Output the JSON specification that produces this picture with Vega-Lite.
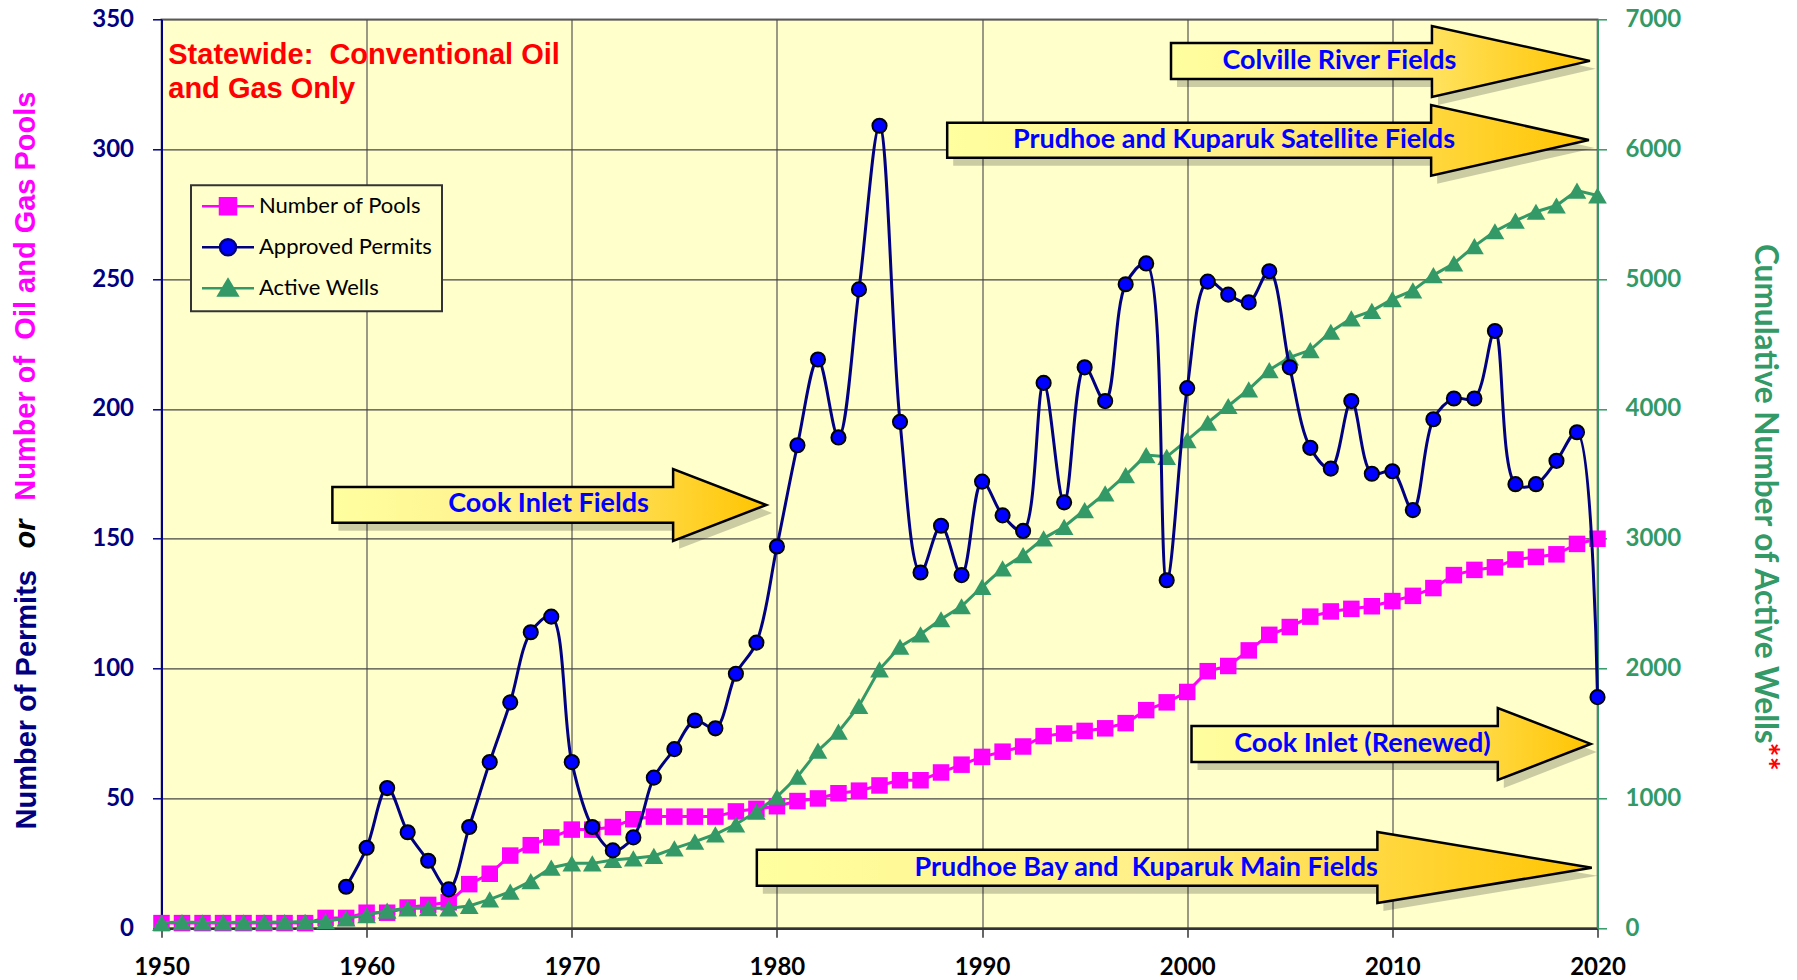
{
  "$schema": "https://vega.github.io/schema/vega-lite/v6.json",
  "width": 1436,
  "height": 909,
  "autosize": {"type": "none"},
  "padding": {"left": 161.5, "top": 19.3, "right": 199.5, "bottom": 51.7},
  "background": "#FFFFFF",
  "config": {
    "view": {"fill": "#FFFFCC", "stroke": "#999999", "strokeWidth": 2},
    "font": "Lato"
  },
  "datasets": {
    "series": [
      {"year": 1950, "pools": 2, "permits": null, "wells": 42},
      {"year": 1951, "pools": 2, "permits": null, "wells": 48},
      {"year": 1952, "pools": 2, "permits": null, "wells": 45},
      {"year": 1953, "pools": 2, "permits": null, "wells": 45},
      {"year": 1954, "pools": 2, "permits": null, "wells": 46},
      {"year": 1955, "pools": 2, "permits": null, "wells": 47},
      {"year": 1956, "pools": 2, "permits": null, "wells": 48},
      {"year": 1957, "pools": 2, "permits": null, "wells": 50},
      {"year": 1958, "pools": 4, "permits": null, "wells": 55},
      {"year": 1959, "pools": 4, "permits": 16, "wells": 77},
      {"year": 1960, "pools": 6, "permits": 31, "wells": 102},
      {"year": 1961, "pools": 6, "permits": 54, "wells": 136},
      {"year": 1962, "pools": 8, "permits": 37, "wells": 154},
      {"year": 1963, "pools": 9, "permits": 26, "wells": 156},
      {"year": 1964, "pools": 10, "permits": 15, "wells": 154},
      {"year": 1965, "pools": 17, "permits": 39, "wells": 172},
      {"year": 1966, "pools": 21, "permits": 64, "wells": 223},
      {"year": 1967, "pools": 28, "permits": 87, "wells": 282},
      {"year": 1968, "pools": 32, "permits": 114, "wells": 364},
      {"year": 1969, "pools": 35, "permits": 120, "wells": 467},
      {"year": 1970, "pools": 38, "permits": 64, "wells": 500},
      {"year": 1971, "pools": 38, "permits": 39, "wells": 500},
      {"year": 1972, "pools": 39, "permits": 30, "wells": 526},
      {"year": 1973, "pools": 42, "permits": 35, "wells": 539},
      {"year": 1974, "pools": 43, "permits": 58, "wells": 557},
      {"year": 1975, "pools": 43, "permits": 69, "wells": 616},
      {"year": 1976, "pools": 43, "permits": 80, "wells": 667},
      {"year": 1977, "pools": 43, "permits": 77, "wells": 724},
      {"year": 1978, "pools": 45, "permits": 98, "wells": 801},
      {"year": 1979, "pools": 46, "permits": 110, "wells": 898},
      {"year": 1980, "pools": 47, "permits": 147, "wells": 1013},
      {"year": 1981, "pools": 49, "permits": 186, "wells": 1167},
      {"year": 1982, "pools": 50, "permits": 219, "wells": 1368},
      {"year": 1983, "pools": 52, "permits": 189, "wells": 1514},
      {"year": 1984, "pools": 53, "permits": 246, "wells": 1712},
      {"year": 1985, "pools": 55, "permits": 309, "wells": 1994},
      {"year": 1986, "pools": 57, "permits": 195, "wells": 2168},
      {"year": 1987, "pools": 57, "permits": 137, "wells": 2264},
      {"year": 1988, "pools": 60, "permits": 155, "wells": 2380},
      {"year": 1989, "pools": 63, "permits": 136, "wells": 2480},
      {"year": 1990, "pools": 66, "permits": 172, "wells": 2630},
      {"year": 1991, "pools": 68, "permits": 159, "wells": 2772},
      {"year": 1992, "pools": 70, "permits": 153, "wells": 2874},
      {"year": 1993, "pools": 74, "permits": 210, "wells": 3003},
      {"year": 1994, "pools": 75, "permits": 164, "wells": 3092},
      {"year": 1995, "pools": 76, "permits": 216, "wells": 3221},
      {"year": 1996, "pools": 77, "permits": 203, "wells": 3349},
      {"year": 1997, "pools": 79, "permits": 248, "wells": 3490},
      {"year": 1998, "pools": 84, "permits": 256, "wells": 3644},
      {"year": 1999, "pools": 87, "permits": 134, "wells": 3631},
      {"year": 2000, "pools": 91, "permits": 208, "wells": 3760},
      {"year": 2001, "pools": 99, "permits": 249, "wells": 3893},
      {"year": 2002, "pools": 101, "permits": 244, "wells": 4022},
      {"year": 2003, "pools": 107, "permits": 241, "wells": 4150},
      {"year": 2004, "pools": 113, "permits": 253, "wells": 4299},
      {"year": 2005, "pools": 116, "permits": 216, "wells": 4397},
      {"year": 2006, "pools": 120, "permits": 185, "wells": 4453},
      {"year": 2007, "pools": 122, "permits": 177, "wells": 4594},
      {"year": 2008, "pools": 123, "permits": 203, "wells": 4697},
      {"year": 2009, "pools": 124, "permits": 175, "wells": 4755},
      {"year": 2010, "pools": 126, "permits": 176, "wells": 4845},
      {"year": 2011, "pools": 128, "permits": 161, "wells": 4912},
      {"year": 2012, "pools": 131, "permits": 196, "wells": 5030},
      {"year": 2013, "pools": 136, "permits": 204, "wells": 5120},
      {"year": 2014, "pools": 138, "permits": 204, "wells": 5253},
      {"year": 2015, "pools": 139, "permits": 230, "wells": 5368},
      {"year": 2016, "pools": 142, "permits": 171, "wells": 5450},
      {"year": 2017, "pools": 143, "permits": 171, "wells": 5518},
      {"year": 2018, "pools": 144, "permits": 180, "wells": 5566},
      {"year": 2019, "pools": 148, "permits": 191, "wells": 5681},
      {"year": 2020, "pools": 150, "permits": 89, "wells": 5643}
    ],
    "arrows": [
      {"arrow": "Colville", "x": 1999.21, "lo": 327.0, "hi": 340.9},
      {"arrow": "Colville", "x": 2011.93, "lo": 327.0, "hi": 340.9},
      {"arrow": "Colville", "x": 2011.93, "lo": 320.1, "hi": 347.4},
      {"arrow": "Colville", "x": 2019.63, "lo": 334.0, "hi": 334.0},
      {"arrow": "Satellite", "x": 1988.30, "lo": 296.7, "hi": 310.2},
      {"arrow": "Satellite", "x": 2011.89, "lo": 296.7, "hi": 310.2},
      {"arrow": "Satellite", "x": 2011.89, "lo": 289.8, "hi": 317.0},
      {"arrow": "Satellite", "x": 2019.58, "lo": 303.5, "hi": 303.5},
      {"arrow": "CookInlet", "x": 1958.33, "lo": 156.2, "hi": 169.9},
      {"arrow": "CookInlet", "x": 1974.94, "lo": 156.2, "hi": 169.9},
      {"arrow": "CookInlet", "x": 1974.94, "lo": 149.2, "hi": 176.8},
      {"arrow": "CookInlet", "x": 1979.48, "lo": 163.0, "hi": 163.0},
      {"arrow": "Renewed", "x": 2000.21, "lo": 64.0, "hi": 77.9},
      {"arrow": "Renewed", "x": 2015.14, "lo": 64.0, "hi": 77.9},
      {"arrow": "Renewed", "x": 2015.14, "lo": 57.1, "hi": 84.8},
      {"arrow": "Renewed", "x": 2019.67, "lo": 71.0, "hi": 71.0},
      {"arrow": "Main", "x": 1979.02, "lo": 16.4, "hi": 30.2},
      {"arrow": "Main", "x": 2009.27, "lo": 16.4, "hi": 30.2},
      {"arrow": "Main", "x": 2009.27, "lo": 9.7, "hi": 37.1},
      {"arrow": "Main", "x": 2019.72, "lo": 23.3, "hi": 23.3}
    ],
    "labels": [
      {"label": "Colville River Fields", "x": 2007.42, "y": 334.0},
      {"label": "Prudhoe and Kuparuk Satellite Fields", "x": 2002.28, "y": 303.5},
      {"label": "Cook Inlet Fields", "x": 1968.87, "y": 163.4},
      {"label": "Cook Inlet (Renewed)", "x": 2008.54, "y": 71.0},
      {"label": "Prudhoe Bay and\u00a0 Kuparuk Main Fields", "x": 1998.0, "y": 23.3}
    ]
  },
  "layer": [
    {
      "layer": [
        {
          "data": {"name": "arrows"},
          "mark": {"type": "area", "fill": "#000000", "opacity": 0.2, "xOffset": 6, "yOffset": 8, "y2Offset": 8},
          "encoding": {
            "x": {
              "field": "x", "type": "quantitative",
              "scale": {"domain": [1950, 2020], "nice": false, "zero": false},
              "axis": {
                "values": [1950, 1960, 1970, 1980, 1990, 2000, 2010, 2020],
                "format": "d", "title": null, "grid": true,
                "gridColor": "#555555", "gridWidth": 1.2,
                "domainColor": "#333333", "domainWidth": 2.5,
                "tickColor": "#333333", "tickSize": 9, "tickWidth": 1.5,
                "labelFont": "Lato", "labelFontSize": 24, "labelFontWeight": "bold",
                "labelColor": "#000000", "labelPadding": 18, "labelFlush": false, "labelOverlap": false
              }
            },
            "y": {
              "field": "hi", "type": "quantitative",
              "scale": {"domain": [0, 350], "nice": false},
              "axis": {
                "values": [0, 50, 100, 150, 200, 250, 300, 350],
                "format": "d", "title": "Number of Permits", "grid": true,
                "gridColor": "#444444", "gridWidth": 1.2,
                "domainColor": "#000080", "domainWidth": 2,
                "tickColor": "#000080", "tickSize": 9, "tickWidth": 1.5,
                "labelFont": "Lato", "labelFontSize": 24, "labelFontWeight": "bold",
                "labelColor": "#000080", "labelPadding": 19,
                "titleFont": "Liberation Sans", "titleFontSize": 29, "titleFontWeight": "bold",
                "titleColor": "#000080", "titleAngle": 270, "titleX": -126.5, "titleY": 680,
                "titleAlign": "center", "titleBaseline": "alphabetic"
              }
            },
            "y2": {"field": "lo"},
            "detail": {"field": "arrow"}
          }
        },
        {
          "data": {"name": "arrows"},
          "mark": {
            "type": "area", "stroke": "#000000", "strokeWidth": 2.5,
            "fill": {"gradient": "linear", "x1": 0, "x2": 1, "y1": 0, "y2": 0,
              "stops": [
                {"offset": 0, "color": "#FFFFA0"},
                {"offset": 0.45, "color": "#FFF08A"},
                {"offset": 1, "color": "#FFC400"}
              ]}
          },
          "encoding": {
            "x": {"field": "x", "type": "quantitative"},
            "y": {"field": "hi", "type": "quantitative"},
            "y2": {"field": "lo"},
            "detail": {"field": "arrow"}
          }
        },
        {
          "data": {"name": "labels"},
          "mark": {"type": "text", "font": "Lato", "fontSize": 27, "fontWeight": "bold", "fill": "#0000FF", "align": "center", "baseline": "middle"},
          "encoding": {
            "x": {"field": "x", "type": "quantitative"},
            "y": {"field": "y", "type": "quantitative"},
            "text": {"field": "label"}
          }
        },
        {
          "data": {"values": [{}]},
          "mark": {"type": "text", "text": ["Statewide:\u00a0 Conventional Oil", "and Gas Only"], "font": "Liberation Sans", "fontSize": 29, "fontWeight": "bold", "fill": "#FF0000", "align": "left", "baseline": "alphabetic", "lineHeight": 34},
          "encoding": {
            "x": {"datum": 1950.33, "type": "quantitative"},
            "y": {"datum": 332.8, "type": "quantitative"}
          }
        },
        {
          "data": {"values": [{}]},
          "mark": {"type": "text", "text": "or", "font": "Liberation Sans", "fontSize": 29, "fontWeight": "bold", "fontStyle": "italic", "fill": "#000000", "align": "center", "baseline": "alphabetic", "angle": 270},
          "encoding": {
            "x": {"datum": 1943.84, "type": "quantitative"},
            "y": {"datum": 151.8, "type": "quantitative"}
          }
        },
        {
          "data": {"values": [{}]},
          "mark": {"type": "text", "text": "Number of\u00a0 Oil and Gas Pools", "font": "Liberation Sans", "fontSize": 29, "fontWeight": "bold", "fill": "#FF00FF", "align": "center", "baseline": "alphabetic", "angle": 270},
          "encoding": {
            "x": {"datum": 1943.84, "type": "quantitative"},
            "y": {"datum": 243.4, "type": "quantitative"}
          }
        },
        {
          "data": {"values": [{}]},
          "mark": {"type": "text", "text": "**", "font": "Lato", "fontSize": 33, "fontWeight": "bold", "fill": "#FF0000", "align": "left", "baseline": "alphabetic", "angle": 90},
          "encoding": {
            "x": {"datum": 2027.66, "type": "quantitative"},
            "y": {"datum": 71.5, "type": "quantitative"}
          }
        },
        {
          "data": {"name": "series"},
          "mark": {"type": "line", "strokeWidth": 3},
          "encoding": {
            "x": {"field": "year", "type": "quantitative"},
            "y": {"field": "pools", "type": "quantitative"},
            "color": {
              "datum": "Number of Pools",
              "scale": {"domain": ["Number of Pools", "Approved Permits", "Active Wells"], "range": ["#FF00FF", "#000080", "#339966"]},
              "legend": {
                "orient": "none", "legendX": 29.5, "legendY": 166, "title": null,
                "fillColor": "#FFFFCC", "strokeColor": "#333333", "padding": 10,
                "labelFont": "Lato", "labelFontSize": 22, "labelColor": "#000000", "labelLimit": 400,
                "labelOffset": 20, "symbolOffset": 16, "symbolSize": 324, "symbolStrokeWidth": 2.5, "rowPadding": 13,
                "encode": {
                  "legend": {"update": {"strokeWidth": {"value": 2}}},
                  "symbols": {"update": {
                    "shape": {"signal": "datum.value === 'Number of Pools' ? 'M-2.89,0H-0.89M0.89,0H2.89M-0.89,-0.89H0.89V0.89H-0.89Z' : datum.value === 'Approved Permits' ? 'M-2.89,0H-0.89M0.89,0H2.89M-0.89,0A0.89,0.89,0,1,0,0.89,0A0.89,0.89,0,1,0,-0.89,0Z' : 'M-2.89,0H-0.6M0.6,0H2.89M0,-0.95L1.05,0.8H-1.05Z'"},
                    "fill": {"signal": "datum.value === 'Number of Pools' ? '#FF00FF' : datum.value === 'Approved Permits' ? '#0000FF' : '#339966'"},
                    "stroke": {"signal": "datum.value === 'Number of Pools' ? '#FF00FF' : datum.value === 'Approved Permits' ? '#000080' : '#339966'"},
                    "fillOpacity": {"value": 1},
                    "strokeWidth": {"value": 2.5},
                    "opacity": {"value": 1}
                  }}
                }
              }
            }
          }
        },
        {
          "data": {"name": "series"},
          "mark": {"type": "point", "shape": "square", "filled": true, "fill": "#FF00FF", "size": 272, "opacity": 1},
          "encoding": {
            "x": {"field": "year", "type": "quantitative"},
            "y": {"field": "pools", "type": "quantitative"}
          }
        }
      ]
    },
    {
      "layer": [
        {
          "data": {"name": "series"},
          "mark": {"type": "line", "strokeWidth": 3},
          "encoding": {
            "x": {"field": "year", "type": "quantitative"},
            "y": {
              "field": "wells", "type": "quantitative",
              "scale": {"domain": [0, 7000], "nice": false},
              "axis": {
                "orient": "right",
                "values": [0, 1000, 2000, 3000, 4000, 5000, 6000, 7000],
                "format": "d", "grid": false,
                "title": "Cumulative Number of Active Wells",
                "domainColor": "#339966", "domainWidth": 2,
                "tickColor": "#339966", "tickSize": 9, "tickWidth": 1.5,
                "labelFont": "Lato", "labelFontSize": 24, "labelFontWeight": "bold",
                "labelColor": "#339966", "labelPadding": 18.5,
                "titleFont": "Lato", "titleFontSize": 31.6, "titleFontWeight": "bold",
                "titleColor": "#339966", "titleAngle": 90, "titleX": 157, "titleY": 474,
                "titleAlign": "center", "titleBaseline": "alphabetic"
              }
            },
            "color": {"datum": "Active Wells"}
          }
        },
        {
          "data": {"name": "series"},
          "mark": {"type": "point", "shape": "triangle-up", "filled": true, "fill": "#339966", "size": 350, "opacity": 1},
          "encoding": {
            "x": {"field": "year", "type": "quantitative"},
            "y": {"field": "wells", "type": "quantitative"}
          }
        }
      ]
    },
    {
      "data": {"name": "series"},
      "transform": [{"filter": "datum.permits != null"}],
      "layer": [
        {
          "mark": {"type": "line", "strokeWidth": 3, "interpolate": "catmull-rom"},
          "encoding": {
            "x": {"field": "year", "type": "quantitative"},
            "y": {"field": "permits", "type": "quantitative", "scale": {"domain": [0, 350], "nice": false}, "axis": null},
            "color": {"datum": "Approved Permits"}
          }
        },
        {
          "mark": {"type": "point", "shape": "circle", "filled": true, "fill": "#0000FF", "stroke": "#000000", "strokeWidth": 2, "size": 200, "opacity": 1},
          "encoding": {
            "x": {"field": "year", "type": "quantitative"},
            "y": {"field": "permits", "type": "quantitative", "axis": null}
          }
        }
      ]
    }
  ],
  "resolve": {"scale": {"y": "independent"}}
}
